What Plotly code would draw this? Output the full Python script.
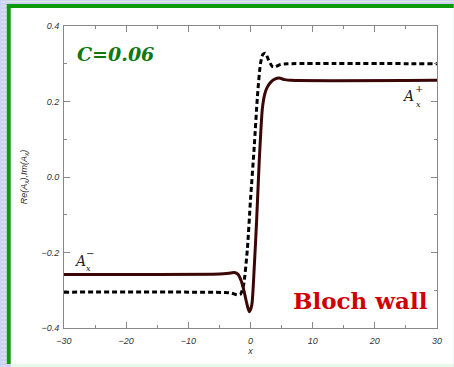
import plotly.graph_objects as go

# ---- data ----
x_re = [-30, -5, -3.5, -2.6, -2.0, -1.5, -1.0, -0.6, -0.2, 0.2, 0.6, 1.0, 1.4, 1.9, 2.3, 2.7, 3.3, 4.0, 4.6, 5.5, 6.5, 30]
re_vals = [-0.258, -0.257, -0.255, -0.253, -0.258, -0.275, -0.305, -0.335, -0.357, -0.34, -0.24, -0.11, 0.04, 0.18, 0.22, 0.238, 0.252, 0.26, 0.262, 0.258, 0.256, 0.256]

x_im = [-30, -4, -3, -2.2, -1.6, -1.1, -0.5, 0.0, 0.6, 1.1, 1.6, 2.0, 2.4, 2.9, 3.5, 4.0, 4.8, 6, 30]
im_vals = [-0.305, -0.306, -0.308, -0.312, -0.31, -0.285, -0.19, -0.06, 0.08, 0.21, 0.30, 0.325, 0.328, 0.31, 0.293, 0.292, 0.298, 0.30, 0.30]

x_ticks = [-30, -20, -10, 0, 10, 20, 30]
y_ticks = [-0.4, -0.2, 0.0, 0.2, 0.4]

W, H = 454, 367
L, R, T, B = 64, 12, 26, 39
PW, PH = W - L - R, H - T - B


def px(p):
    return (p - L) / PW


def py(p):
    return (H - B - p) / PH


fig = go.Figure()
fig.add_trace(go.Scatter(x=x_im, y=im_vals, mode="lines",
                         line=dict(color="black", width=3, dash="5px,3px", shape="spline", smoothing=0.6),
                         showlegend=False))
fig.add_trace(go.Scatter(x=x_re, y=re_vals, mode="lines",
                         line=dict(color="#3a0606", width=3, shape="spline", smoothing=0.6),
                         showlegend=False))

sans = "Liberation Sans, Arial, sans-serif"
tickfont = dict(family=sans, size=9, color="#333333", style="italic")
axis_common = dict(showgrid=False, zeroline=False, showline=True, linecolor="#888888", linewidth=1,
                   mirror="ticks", ticks="inside", ticklen=6, tickcolor="#888888", tickfont=tickfont)

fig.update_xaxes(range=[-30, 30], tickvals=x_ticks, ticktext=[("\u2212" if v < 0 else "") + str(abs(v)) for v in x_ticks],
                 minor=dict(tickvals=[-25, -15, -5, 5, 15, 25], ticks="inside", ticklen=3, tickcolor="#888888"),
                 title=dict(text="x", font=dict(family=sans, size=9, color="#333333", style="italic"), standoff=2),
                 ticklabelstandoff=4, **axis_common)
fig.update_yaxes(range=[-0.4, 0.4], tickvals=y_ticks,
                 ticktext=[("\u2212" if v < 0 else "") + f"{abs(v):.1f}" for v in y_ticks],
                 minor=dict(tickvals=[-0.3, -0.1, 0.1, 0.3], ticks="inside", ticklen=3, tickcolor="#888888"),
                 title=dict(text="Re(A<sub>x</sub>),Im(A<sub>x</sub>)",
                            font=dict(family=sans, size=9, color="#333333", style="italic"), standoff=12),
                 ticklabelstandoff=2, **axis_common)

shapes = []
# white panel and frame
shapes.append(dict(type="rect", xref="paper", yref="paper", x0=px(6), x1=px(W + 5), y0=py(364), y1=py(4),
                   fillcolor="white", line=dict(width=0), layer="below"))
shapes.append(dict(type="rect", xref="paper", yref="paper", x0=px(6), x1=px(10), y0=py(364), y1=py(4),
                   fillcolor="#0a9a0a", line=dict(width=0), layer="below"))
shapes.append(dict(type="rect", xref="paper", yref="paper", x0=px(6), x1=px(W + 5), y0=py(8), y1=py(4),
                   fillcolor="#0a9a0a", line=dict(width=0), layer="below"))
shapes.append(dict(type="rect", xref="paper", yref="paper", x0=px(10), x1=px(W + 5), y0=py(H + 2), y1=py(364),
                   fillcolor="#eaf8ea", line=dict(width=0), layer="below"))
# stripes on lavender border
path = ""
for yy in range(2, H, 4):
    path += f"M{px(0)},{py(yy)} L{px(6)},{py(yy)} "
shapes.append(dict(type="path", xref="paper", yref="paper", path=path,
                   line=dict(color="#d8f0d8", width=1), layer="below"))
shapes.append(dict(type="line", xref="paper", yref="paper", x0=px(6), x1=px(W + 5), y0=py(1.5), y1=py(1.5),
                   line=dict(color="#d8f0d8", width=1), layer="below"))

serif = "DejaVu Serif"
annotations = [
    dict(x=px(116), y=py(54), text="<b><i>C=0.06</i></b>", font=dict(family=serif, size=19, color="#0d780d")),
    dict(x=px(364), y=py(300), text="<b>Bloch wall</b>", font=dict(family=serif, size=23, color="#d00000")),
    dict(x=px(80), y=py(261), text="<i>A</i>", font=dict(family=serif, size=14, color="#222222")),
    dict(x=px(89), y=py(268), text="<i>x</i>", font=dict(family=serif, size=8, color="#222222")),
    dict(x=px(90), y=py(253), text="\u2212", font=dict(family=serif, size=10, color="#222222")),
    dict(x=px(413), y=py(96), text="<i>A</i>", font=dict(family=serif, size=14, color="#222222")),
    dict(x=px(423.5), y=py(104), text="<i>x</i>", font=dict(family=serif, size=8, color="#222222")),
    dict(x=px(424), y=py(88), text="+", font=dict(family=serif, size=10, color="#222222")),
]
for a in annotations:
    a.update(xref="paper", yref="paper", showarrow=False, xanchor="center", yanchor="middle")

fig.update_layout(width=W, height=H, margin=dict(l=L, r=R, t=T, b=B),
                  paper_bgcolor="#cfd0f6", plot_bgcolor="white",
                  shapes=shapes, annotations=annotations)

fig.write_html("out.html")
